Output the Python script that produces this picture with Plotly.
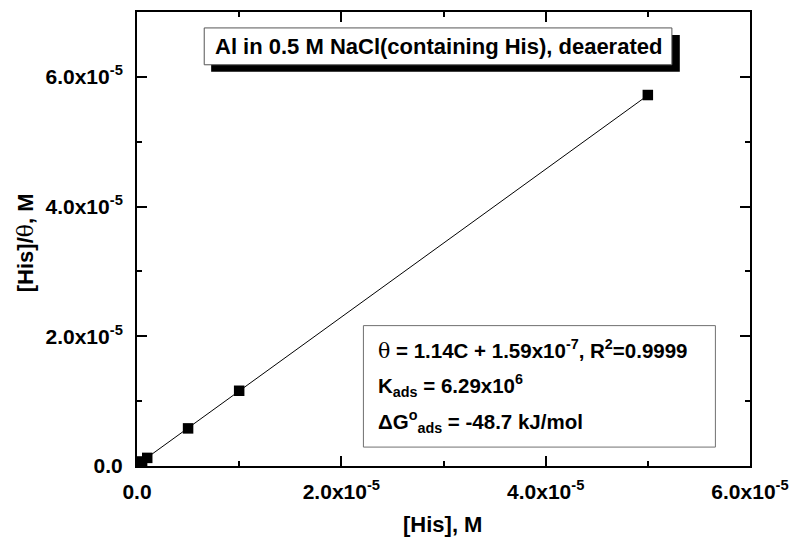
import plotly.graph_objects as go

his_conc = [5e-7, 1e-6, 5e-6, 1e-5, 5e-5]
his_over_theta = [7.0e-7, 1.25e-6, 5.8e-6, 1.16e-5, 5.72e-5]
fit_slope = 1.14
fit_intercept = 1.59e-7

x_tickvals = [0, 2e-5, 4e-5, 6e-5]
x_ticktext = ["0.0", "2.0x10<sup>-5</sup>", "4.0x10<sup>-5</sup>", "6.0x10<sup>-5</sup>"]
y_tickvals = [0, 2e-5, 4e-5, 6e-5]
y_ticktext = ["0.0", "2.0x10<sup>-5</sup>", "4.0x10<sup>-5</sup>", "6.0x10<sup>-5</sup>"]

title_text = "Al in 0.5 M NaCl(containing His), deaerated"
eq_lines = [
    "<span style='font-weight:normal;font-family:DejaVu Serif'>θ</span> = 1.14C + 1.59x10<sup>-7</sup>, R<sup>2</sup>=0.9999",
    "K<sub>ads</sub> = 6.29x10<sup>6</sup>",
    "ΔG<sup>o</sup><sub>ads</sub> = -48.7 kJ/mol",
]

FONT = "Arial, Liberation Sans, sans-serif"

fit_x = [his_conc[0], his_conc[-1]]
fit_y = [fit_slope * v + fit_intercept for v in fit_x]

fig = go.Figure()
fig.add_trace(go.Scatter(x=fit_x, y=fit_y, mode="lines",
                         line=dict(color="black", width=1), showlegend=False))
fig.add_trace(go.Scatter(x=his_conc, y=his_over_theta, mode="markers",
                         marker=dict(symbol="square", size=10.5, color="black"),
                         showlegend=False))

axis_common = dict(
    showgrid=False, zeroline=False, showline=True, linecolor="black", linewidth=2,
    mirror="allticks", ticks="inside", ticklen=10, tickwidth=2, tickcolor="black",
    tickfont=dict(family=FONT, size=21, color="black", weight="bold"),
    minor=dict(ticks="inside", ticklen=5, tickwidth=2, tickcolor="black", dtick=1e-5),
)

fig.update_xaxes(range=[0, 6e-5], tickvals=x_tickvals, ticktext=x_ticktext,
                 ticklabelstandoff=6, **axis_common)
fig.update_yaxes(range=[0, 7e-5], tickvals=y_tickvals, ticktext=y_ticktext,
                 ticklabelstandoff=8, **axis_common)

def px_x(p):
    return (p - 137) / 620.0

def px_y(p):
    return (466 - p) / 456.0

shapes = [
    dict(type="rect", xref="paper", yref="paper", x0=px_x(212), x1=px_x(686),
         y0=px_y(70), y1=px_y(33), fillcolor="black", line=dict(width=0), layer="above"),
    dict(type="rect", xref="paper", yref="paper", x0=px_x(205), x1=px_x(678),
         y0=px_y(63), y1=px_y(26), fillcolor="white", line=dict(color="#555555", width=1), layer="above"),
    dict(type="rect", xref="paper", yref="paper", x0=px_x(366), x1=px_x(722),
         y0=px_y(447), y1=px_y(325), fillcolor="white", line=dict(color="#707070", width=1), layer="above"),
]

annotations = [
    dict(text=title_text, xref="paper", yref="paper", x=px_x(441.5), y=px_y(44.5),
         showarrow=False, xanchor="center", yanchor="middle",
         font=dict(family=FONT, size=22, color="black", weight="bold")),
    dict(text="[His], M", xref="paper", yref="paper", x=px_x(446), y=px_y(525),
         showarrow=False, xanchor="center", yanchor="middle",
         font=dict(family=FONT, size=22, color="black", weight="bold")),
    dict(text="[His]/<span style='font-weight:normal;font-family:DejaVu Serif'>θ</span>, M",
         xref="paper", yref="paper", x=px_x(25), y=px_y(242), textangle=-90,
         showarrow=False, xanchor="center", yanchor="middle",
         font=dict(family=FONT, size=22, color="black", weight="bold")),
]
line_y = [349, 385, 421]
for t, yy in zip(eq_lines, line_y):
    annotations.append(dict(text=t, xref="paper", yref="paper", x=px_x(379), y=px_y(yy),
                            showarrow=False, xanchor="left", yanchor="middle",
                            font=dict(family=FONT, size=20.5, color="black", weight="bold")))

fig.update_layout(
    width=799, height=547,
    margin=dict(l=137, r=42, t=10, b=81),
    plot_bgcolor="white", paper_bgcolor="white",
    shapes=shapes, annotations=annotations,
)

fig.write_html("out.html", config={"displayModeBar": False},
               post_script="document.body.style.margin='0';")
